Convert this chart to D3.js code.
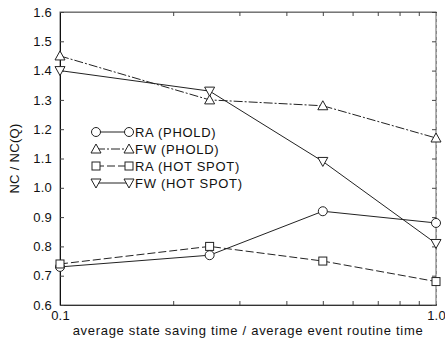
<!DOCTYPE html>
<html>
<head>
<meta charset="utf-8">
<script src="https://cdn.jsdelivr.net/npm/d3@7"></script>
<style>
  body { margin: 0; background: #fff; }
  text { font-family: "Liberation Sans", Arial, sans-serif; fill: #111; }
</style>
</head>
<body>
<div id="chart"></div>
<script>
// data
const ratios = [0.1, 0.25, 0.5, 1.0];
const raPhold = [0.73, 0.77, 0.92, 0.88];
const fwPhold = [1.45, 1.30, 1.28, 1.17];
const raHot   = [0.74, 0.80, 0.75, 0.68];
const fwHot   = [1.40, 1.33, 1.09, 0.81];
const minorTicks = [0.1, 0.2, 0.3, 0.4, 0.5, 0.6, 0.7, 0.8, 0.9, 1.0];
const yTicks = [0.6, 0.7, 0.8, 0.9, 1.0, 1.1, 1.2, 1.3, 1.4, 1.5, 1.6];

const series = [
  { name: "RA (PHOLD)",    values: raPhold, symbol: "circle", dash: null },
  { name: "FW (PHOLD)",    values: fwPhold, symbol: "up",     dash: "9,2,2,2" },
  { name: "RA (HOT SPOT)", values: raHot,   symbol: "square", dash: "8,3" },
  { name: "FW (HOT SPOT)", values: fwHot,   symbol: "down",   dash: null }
];

const width = 445, height = 344;
const margin = { top: 12, right: 9, bottom: 39, left: 60 };

const svg = d3.select("#chart").append("svg")
  .attr("width", width)
  .attr("height", height);

const x = d3.scaleLog()
  .domain([0.1, 1.0])
  .range([margin.left, width - margin.right]);

const y = d3.scaleLinear()
  .domain([0.6, 1.6])
  .range([height - margin.bottom, margin.top]);

// frame
svg.append("rect")
  .attr("x", margin.left)
  .attr("y", margin.top)
  .attr("width", x(1.0) - x(0.1))
  .attr("height", y(0.6) - y(1.6))
  .attr("fill", "none")
  .attr("stroke", "#666")
  .attr("stroke-width", 1);

// axes, ticks pointing inward
svg.append("g")
  .attr("transform", `translate(0,${y(0.6)})`)
  .call(d3.axisBottom(x).tickValues(minorTicks).tickSize(-4).tickPadding(6)
    .tickFormat(d => d === 0.1 ? "0.1" : d === 1.0 ? "1.0" : ""))
  .call(g => g.select(".domain").attr("stroke", "#333"));

svg.append("g")
  .attr("transform", `translate(0,${y(1.6)})`)
  .call(d3.axisTop(x).tickValues(minorTicks).tickSize(-4).tickFormat(""))
  .call(g => g.select(".domain").attr("stroke", "#777"));

svg.append("g")
  .attr("transform", `translate(${x(0.1)},0)`)
  .call(d3.axisLeft(y).tickValues(yTicks).tickSize(-4).tickPadding(8)
    .tickFormat(d3.format(".1f")))
  .call(g => g.select(".domain").attr("stroke", "#111"));

svg.append("g")
  .attr("transform", `translate(${x(1.0)},0)`)
  .call(d3.axisRight(y).tickValues(yTicks).tickSize(-4).tickFormat(""))
  .call(g => g.select(".domain").attr("stroke", "#888").attr("stroke-dasharray", "3,3"));

svg.selectAll(".tick line").attr("stroke", "#444");
svg.selectAll(".tick text")
  .style("font-family", "'Liberation Sans', Arial, sans-serif")
  .style("font-size", "13px")
  .style("letter-spacing", "0.2px")
  .attr("fill", "#111");

// marker shapes
function drawMarker(g, type, cx, cy) {
  if (type === "circle") {
    g.append("circle").attr("cx", cx).attr("cy", cy).attr("r", 4.5);
  } else if (type === "square") {
    g.append("rect").attr("x", cx - 4).attr("y", cy - 4).attr("width", 8).attr("height", 8);
  } else {
    const s = type === "up" ? 1 : -1;
    g.append("path").attr("d", `M${cx},${cy - 5 * s}L${cx + 5},${cy + 4 * s}L${cx - 5},${cy + 4 * s}Z`);
  }
}

const line = d3.line()
  .x((d, i) => x(ratios[i]))
  .y(d => y(d));

series.forEach(s => {
  svg.append("path")
    .datum(s.values)
    .attr("d", line)
    .attr("fill", "none")
    .attr("stroke", "#222")
    .attr("stroke-width", 1)
    .attr("stroke-dasharray", s.dash);

  const mg = svg.append("g").attr("fill", "#fff").attr("stroke", "#222").attr("stroke-width", 1);
  s.values.forEach((v, i) => drawMarker(mg, s.symbol, x(ratios[i]), y(v)));
});

// legend
const legend = svg.append("g").attr("transform", "translate(96,132)");
series.forEach((s, i) => {
  const ly = i * 17;
  legend.append("line")
    .attr("x1", 0).attr("x2", 33)
    .attr("y1", ly).attr("y2", ly)
    .attr("stroke", "#222")
    .attr("stroke-dasharray", s.dash);
  const mg = legend.append("g").attr("fill", "#fff").attr("stroke", "#222");
  drawMarker(mg, s.symbol, 0, ly);
  drawMarker(mg, s.symbol, 33, ly);
  legend.append("text")
    .attr("x", 39)
    .attr("y", ly + 4.5)
    .style("font-size", "13px")
    .style("letter-spacing", "0.7px")
    .text(s.name);
});

// axis titles
svg.append("text")
  .attr("x", (x(0.1) + x(1.0)) / 2)
  .attr("y", 335)
  .attr("text-anchor", "middle")
  .style("font-size", "13px")
  .style("letter-spacing", "0.7px")
  .text("average state saving time / average event routine time");

svg.append("text")
  .attr("transform", `translate(19,${(y(0.6) + y(1.6)) / 2}) rotate(-90)`)
  .attr("text-anchor", "middle")
  .style("font-size", "13px")
  .style("letter-spacing", "0.3px")
  .text("NC / NC(Q)");
</script>
</body>
</html>
